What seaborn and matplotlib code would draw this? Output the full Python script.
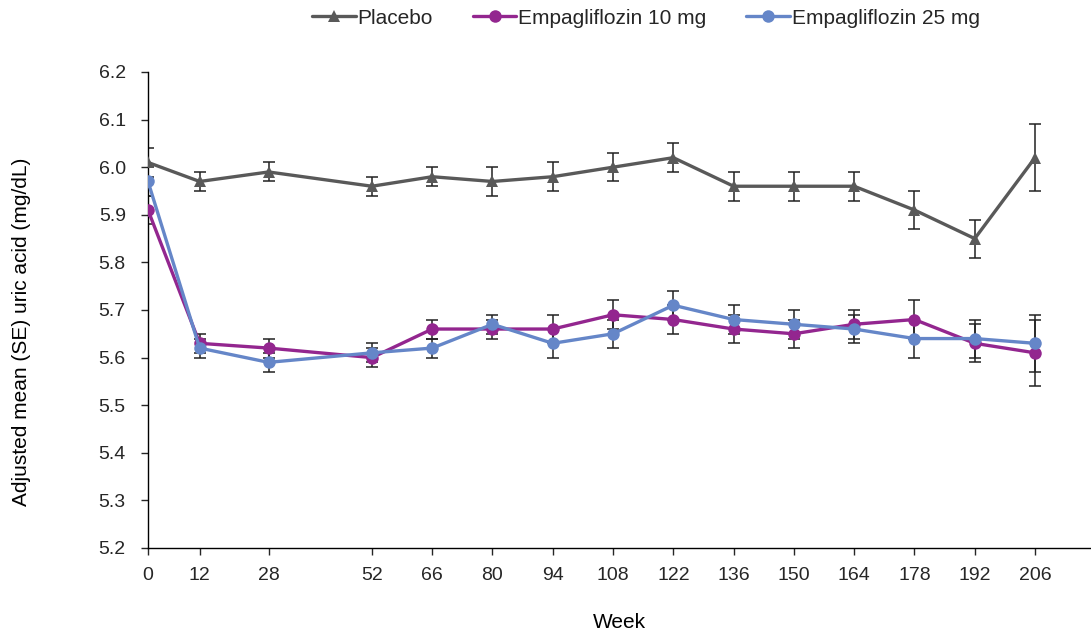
import matplotlib
matplotlib.use("Agg")
import matplotlib.pyplot as plt
import seaborn as sns
import pandas as pd
import numpy as np

weeks = [0, 12, 28, 52, 66, 80, 94, 108, 122, 136, 150, 164, 178, 192, 206]
placebo = [6.01, 5.97, 5.99, 5.96, 5.98, 5.97, 5.98, 6.00, 6.02, 5.96, 5.96, 5.96, 5.91, 5.85, 6.02]
placebo_se = [0.03, 0.02, 0.02, 0.02, 0.02, 0.03, 0.03, 0.03, 0.03, 0.03, 0.03, 0.03, 0.04, 0.04, 0.07]
empa10 = [5.91, 5.63, 5.62, 5.60, 5.66, 5.66, 5.66, 5.69, 5.68, 5.66, 5.65, 5.67, 5.68, 5.63, 5.61]
empa10_se = [0.03, 0.02, 0.02, 0.02, 0.02, 0.02, 0.03, 0.03, 0.03, 0.03, 0.03, 0.03, 0.04, 0.04, 0.07]
empa25 = [5.97, 5.62, 5.59, 5.61, 5.62, 5.67, 5.63, 5.65, 5.71, 5.68, 5.67, 5.66, 5.64, 5.64, 5.63]
empa25_se = [0.03, 0.02, 0.02, 0.02, 0.02, 0.02, 0.03, 0.03, 0.03, 0.03, 0.03, 0.03, 0.04, 0.04, 0.06]
yticks = [5.2, 5.3, 5.4, 5.5, 5.6, 5.7, 5.8, 5.9, 6.0, 6.1, 6.2]

groups = ["Placebo", "Empagliflozin 10 mg", "Empagliflozin 25 mg"]
colors = {"Placebo": "#595959", "Empagliflozin 10 mg": "#93268F", "Empagliflozin 25 mg": "#6586C8"}
markers = {"Placebo": "^", "Empagliflozin 10 mg": "o", "Empagliflozin 25 mg": "o"}

df = pd.DataFrame({
    "Week": weeks * 3,
    "value": placebo + empa10 + empa25,
    "se": placebo_se + empa10_se + empa25_se,
    "group": [groups[0]] * len(weeks) + [groups[1]] * len(weeks) + [groups[2]] * len(weeks),
})

sns.set_theme(style="ticks")
plt.rcParams["font.family"] = ["Liberation Sans", "DejaVu Sans"]

fig = plt.figure(figsize=(10.91, 6.36), dpi=100)
ax = fig.add_axes([148 / 1091, 1 - 548 / 636, (1091 - 148) / 1091, (548 - 72) / 636])

for g in groups:
    sub = df[df.group == g]
    ax.errorbar(sub["Week"], sub["value"], yerr=sub["se"], fmt="none", ecolor="#222222",
                elinewidth=1.1, capsize=4.3, capthick=1.1, zorder=2)

sns.lineplot(data=df, x="Week", y="value", hue="group", style="group",
             palette=colors, markers=markers, dashes=False, hue_order=groups,
             style_order=groups, linewidth=2.4, markersize=9, markeredgewidth=0,
             errorbar=None, ax=ax, zorder=3)

ax.set_xlim(0, 219)
ax.set_ylim(5.2, 6.2)
ax.set_xticks(weeks)
ax.set_xticklabels([str(w) for w in weeks])
ax.set_yticks(yticks)
ax.set_yticklabels([f"{v:.1f}" for v in yticks])
ax.tick_params(axis="both", labelsize=14, colors="#262626", length=5, width=1,
               direction="out")
ax.tick_params(axis="y", pad=11)
ax.tick_params(axis="x", pad=9)
for s in ["top", "right"]:
    ax.spines[s].set_visible(False)
for s in ["left", "bottom"]:
    ax.spines[s].set_color("#000000")
    ax.spines[s].set_linewidth(1)

ax.set_xlabel("Week", fontsize=15, color="#000000")
ax.xaxis.set_label_coords(0.5, -0.137)
ax.xaxis.label.set_va("top")
ax.set_ylabel("Adjusted mean (SE) uric acid (mg/dL)", fontsize=15, color="#000000")
ax.yaxis.set_label_coords(-0.124, 0.454)

handles, labels = ax.get_legend_handles_labels()
if ax.get_legend() is not None:
    ax.get_legend().remove()
fig.legend(handles, labels, loc="center", bbox_to_anchor=(646 / 1091, 1 - 18 / 636), ncol=3,
           frameon=False, fontsize=15, handlelength=2.1, handletextpad=0.1,
           columnspacing=1.9, borderaxespad=0)

fig.savefig("out.png", dpi=100)
